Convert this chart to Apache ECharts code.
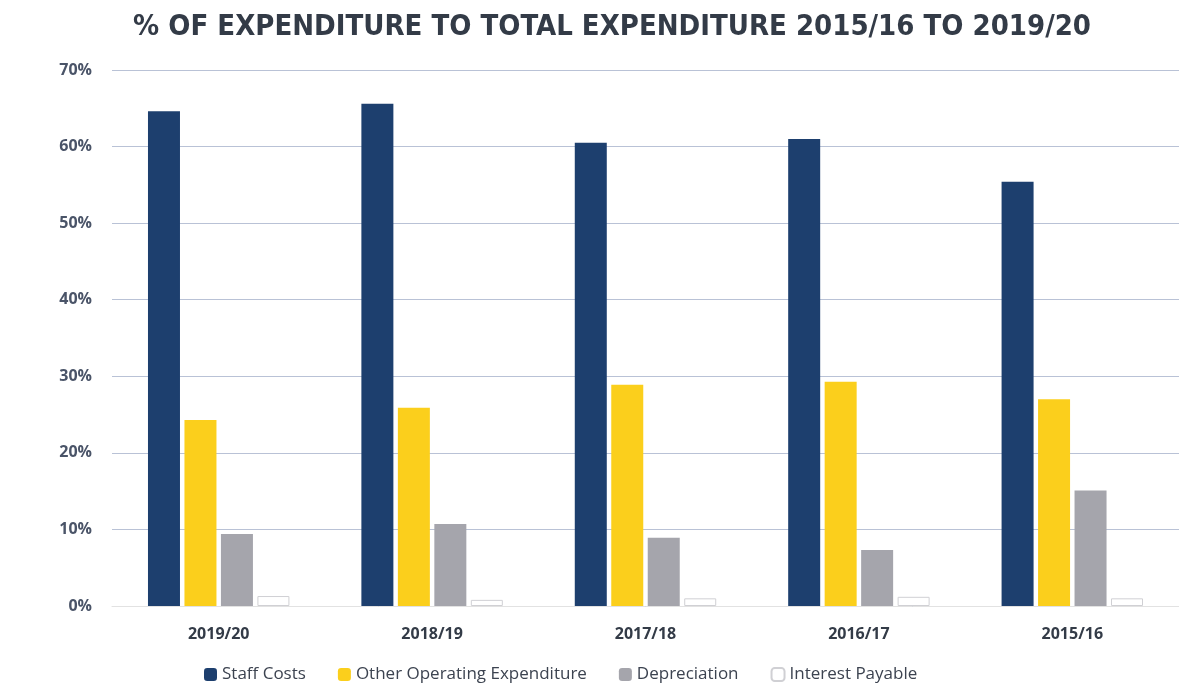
<!DOCTYPE html>
<html><head><meta charset="utf-8">
<script src="https://cdn.jsdelivr.net/npm/echarts@6/dist/echarts.min.js"></script>
<style>html,body{margin:0;padding:0;background:#fff}#c{width:1179px;height:685px}</style>
</head><body><div id="c"></div>
<script>
const categories = ['2019/20', '2018/19', '2017/18', '2016/17', '2015/16'];
const staffCosts = [64.6, 65.6, 60.5, 61.0, 55.4];
const otherOperating = [24.3, 25.9, 28.9, 29.3, 27.0];
const depreciation = [9.4, 10.7, 8.9, 7.3, 15.1];
const interestPayable = [1.3, 0.8, 1.0, 1.2, 1.0];
const yTicks = [0, 10, 20, 30, 40, 50, 60, 70];

const chart = echarts.init(document.getElementById('c'));
chart.setOption({
  animation: false,
  title: {
    text: '% OF EXPENDITURE TO TOTAL EXPENDITURE 2015/16 TO 2019/20',
    left: 607, textAlign: 'center', top: 8,
    textStyle: { fontFamily: '"DejaVu Sans Condensed"', fontWeight: 'bold', fontSize: 29, color: '#333b47' }
  },
  legend: {
    bottom: -3, left: 199, itemWidth: 13, itemHeight: 13, itemGap: 32,
    textStyle: { fontFamily: '"Open Sans",sans-serif', fontSize: 17, color: '#3c4350' },
    data: ['Staff Costs', 'Other Operating Expenditure', 'Depreciation', 'Interest Payable']
  },
  grid: { left: 112, right: 0, top: 70, bottom: 79 },
  xAxis: {
    type: 'category', data: categories,
    axisLine: { show: true, lineStyle: { color: '#e2e2e2' } },
    axisTick: { show: false },
    axisLabel: { margin: 20, fontFamily: '"Open Sans",sans-serif', fontWeight: 'bold', fontSize: 16, color: '#333b47' }
  },
  yAxis: {
    type: 'value', min: yTicks[0], max: yTicks[yTicks.length - 1], interval: 10,
    axisLine: { show: false }, axisTick: { show: false },
    axisLabel: { margin: 20, formatter: '{value}%', fontFamily: '"Open Sans",sans-serif', fontWeight: 'bold', fontSize: 16, color: '#4a5468' },
    splitLine: { lineStyle: { color: '#b9c2d6', width: 1.2 } }
  },
  series: [
    { name: 'Staff Costs', type: 'bar', data: staffCosts, barWidth: 32, barGap: '14%', itemStyle: { color: '#1d3f6e' } },
    { name: 'Other Operating Expenditure', type: 'bar', data: otherOperating, barWidth: 32, barGap: '14%', itemStyle: { color: '#fbcf1c' } },
    { name: 'Depreciation', type: 'bar', data: depreciation, barWidth: 32, barGap: '14%', itemStyle: { color: '#a5a5ac' } },
    { name: 'Interest Payable', type: 'bar', data: interestPayable, barWidth: 32, barGap: '14%', itemStyle: { color: '#ffffff', borderColor: '#d0d0d4', borderWidth: 1 } }
  ]
});
</script></body></html>
